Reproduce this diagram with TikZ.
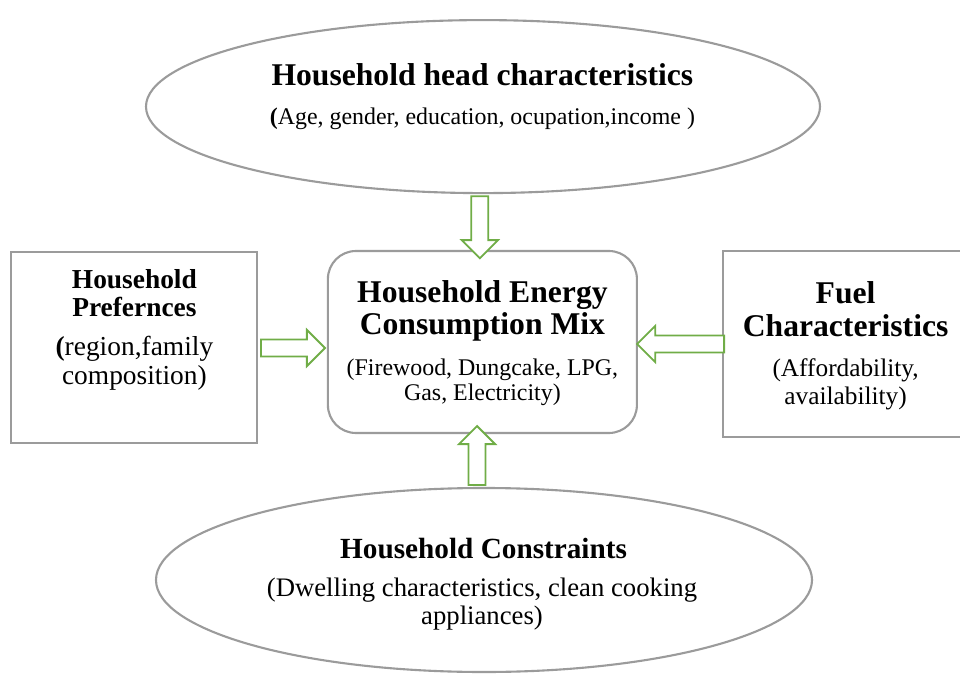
\documentclass[tikz,border=0pt]{standalone}
\usepackage{fontspec}
\setmainfont{Liberation Serif}
\usetikzlibrary{shapes.geometric,shapes.arrows}
\definecolor{framegray}{RGB}{155,155,155}
\definecolor{arrowgreen}{RGB}{112,173,71}
\tikzset{
  oval/.style={ellipse, draw=framegray, line width=1.5pt, inner sep=0pt},
  plainbox/.style={rectangle, draw=framegray, line width=1.5pt, inner sep=0pt},
  mixbox/.style={plainbox, rounded corners=0.7cm},
  headtext/.style 2 args={align=center, inner sep=0pt, font=\bfseries\fontsize{#1}{#2}\selectfont},
  bodytext/.style 2 args={align=center, inner sep=0pt, font=\fontsize{#1}{#2}\selectfont},
  fatarrow/.style={single arrow, draw=arrowgreen, line width=1.3pt, fill=white,
    inner xsep=0pt, inner ysep=0.19cm, single arrow head extend=0.24cm,
    single arrow head indent=0pt, anchor=tail}
}
\begin{document}
\begin{tikzpicture}

		\useasboundingbox (0,0) rectangle (24,16.825);

		% Household head characteristics (top)
		\node[oval, minimum width=16.85cm, minimum height=4.325cm] (hhead) at (12.075,14.16) {};
		\node[headtext={22.5}{23.5}] (hheadT) at (12.06,14.95) {Household head characteristics};
		\node[bodytext={17}{18}] (hheadS) at (12.06,13.85) {{\bfseries(}Age, gender, education, ocupation,income )};

		% Household energy consumption mix (centre)
		\node[mixbox, minimum width=7.725cm, minimum height=4.55cm] (mix) at (12.06,8.275) {};
		\node[headtext={22.5}{23}] (mixT) at (12.06,9.05) {Household Energy\\Consumption Mix};
		\node[bodytext={17}{18}] (mixS) at (12.06,7.26) {(Firewood, Dungcake, LPG,\\Gas, Electricity)};

		% Household preferences (left)
		\node[plainbox, minimum width=6.15cm, minimum height=4.775cm] (pref) at (3.35,8.1375) {};
		\node[headtext={19.5}{20}] (prefT) at (3.36,9.5) {Household\\Prefernces};
		\node[bodytext={19.5}{20.5}] (prefS) at (3.36,7.74) {{\bfseries(}region,family\\composition)};

		% Fuel characteristics (right, runs off the page)
		\node[plainbox, minimum width=6.125cm, minimum height=4.65cm] (fuel) at (21.14,8.225) {};
		\node[headtext={22.5}{23.5}] (fuelT) at (21.14,9.09) {Fuel\\Characteristics};
		\node[bodytext={18}{20}] (fuelS) at (21.14,7.225) {(Affordability,\\availability)};

		% Household constraints (bottom)
		\node[oval, minimum width=16.4cm, minimum height=4.6cm] (hcons) at (12.1,2.325) {};
		\node[headtext={20.8}{22}] (hconsT) at (12.09,3.1) {Household Constraints};
		\node[bodytext={19}{20}] (hconsS) at (12.05,1.725) {(Dwelling characteristics, clean cooking\\appliances)};

		% Block arrows into the mix (tail on the outer shape)
		\node[fatarrow, rotate=-90, minimum height=1.55cm] (arrTop) at ([xshift=-0.08cm, yshift=-0.03cm]hhead.south) {};
		\node[fatarrow, minimum height=1.6cm] (arrLeft) at ([xshift=0.05cm, yshift=-0.0125cm]pref.east) {};
		\node[fatarrow, rotate=180, minimum height=2.175cm] (arrRight) at ([xshift=0.075cm]fuel.west) {};
		\node[fatarrow, rotate=90, minimum height=1.475cm] (arrBottom) at ([xshift=-0.175cm, yshift=0.025cm]hcons.north) {};

	\end{tikzpicture}
\end{document}
